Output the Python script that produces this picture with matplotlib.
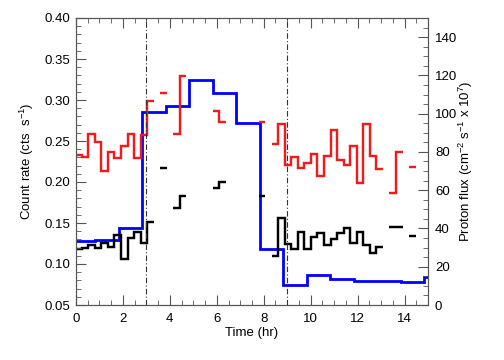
import numpy as np
import matplotlib
matplotlib.use('Agg')
import matplotlib.pyplot as plt
from matplotlib.ticker import MultipleLocator, FormatStrFormatter

plt.rcParams['font.family'] = ['Liberation Sans', 'DejaVu Sans']
plt.rcParams['mathtext.fontset'] = 'custom'
plt.rcParams['mathtext.rm'] = 'Liberation Sans'
plt.rcParams['mathtext.it'] = 'Liberation Sans:italic'
plt.rcParams['mathtext.default'] = 'regular'

nan = np.nan

# ---- data -------------------------------------------------------------
# count-rate light curves, 1000 s bins (time in hr)
count_bin_start = -0.035
count_bin_width = 0.279
red_rate = [0.233, 0.231, 0.259, 0.249, 0.214, 0.236, 0.229, 0.244, 0.259, 0.229,
            0.257, 0.299, nan, 0.308, nan, 0.259, 0.329, nan, nan, nan,
            nan, 0.287, 0.273, nan, nan, nan, nan, nan, 0.2735, nan,
            0.246, 0.2707, 0.2207, 0.230, 0.2167, 0.223, 0.234, 0.2077, 0.232, 0.263,
            0.227, 0.221, 0.244, 0.199, 0.2707, 0.232, 0.2155, nan, 0.186, 0.236,
            nan, 0.218, nan, nan]
black_rate = [0.118, 0.120, 0.123, 0.120, 0.126, 0.121, 0.135, 0.1057, 0.132, 0.139,
              0.126, 0.1516, nan, 0.2175, nan, 0.168, 0.183, nan, nan, nan,
              nan, 0.193, 0.2004, nan, nan, nan, nan, nan, 0.183, nan,
              0.110, 0.1557, 0.125, 0.118, 0.1386, 0.118, 0.1326, 0.1374, 0.123, 0.130,
              0.1374, 0.1435, 0.126, 0.139, 0.123, 0.113, 0.121, nan, 0.1455, 0.1455,
              nan, 0.1345, nan, nan]

# proton flux, hourly bins (units 1e7 cm^-2 s^-1)
proton_bin_start = -0.17
proton_bin_width = 1.0
proton_flux = [33.5, 34.2, 40.2, 100.9, 104.0, 117.6, 111.0, 95.0,
               29.3, 10.5, 15.5, 13.7, 12.5, 12.5, 12.0, 14.8]

event_times = [3.0, 9.0]

x_ticks = [0, 2, 4, 6, 8, 10, 12, 14]
left_ticks = [0.05, 0.10, 0.15, 0.20, 0.25, 0.30, 0.35, 0.40]
right_ticks = [0, 20, 40, 60, 80, 100, 120, 140]

# ---- figure -----------------------------------------------------------
fig = plt.figure(figsize=(5.04, 3.6), dpi=100)
ax = fig.add_axes([76 / 504, 55 / 360, 352 / 504, 287 / 360])
ax2 = ax.twinx()
ax.set_zorder(2)
ax.patch.set_visible(False)
ax2.set_zorder(1)

proton_edges = proton_bin_start + proton_bin_width * np.arange(len(proton_flux) + 1)
ax2.stairs(proton_flux, proton_edges, baseline=None, color='#0000ff', lw=2.0)

count_edges = count_bin_start + count_bin_width * np.arange(len(red_rate) + 1)
ax.stairs(red_rate, count_edges, baseline=None, color='#ee1c1c', lw=1.75)
ax.stairs(black_rate, count_edges, baseline=None, color='black', lw=1.75)

for t in event_times:
    ax.axvline(t, color='#333333', lw=0.8, linestyle=(0, (5, 2, 1, 2)))

ax.set_xlim(0, 15)
ax.set_ylim(0.05, 0.40)
ax2.set_ylim(0, 150)

ax.set_xticks(x_ticks)
ax.xaxis.set_minor_locator(MultipleLocator(0.5))
ax.set_yticks(left_ticks)
ax.yaxis.set_major_formatter(FormatStrFormatter('%.2f'))
ax.yaxis.set_minor_locator(MultipleLocator(0.01))
ax2.set_yticks(right_ticks)
ax2.yaxis.set_minor_locator(MultipleLocator(5))

spine_col = '#555555'
for a in (ax, ax2):
    for s in a.spines.values():
        s.set_color(spine_col)
        s.set_linewidth(0.8)

fs = 9.5
ax.tick_params(axis='both', which='both', direction='in', color=spine_col,
               top=True, right=False, labelsize=fs)
ax.tick_params(which='major', length=7, width=0.8)
ax.tick_params(which='minor', length=3.5, width=0.6)
ax.tick_params(axis='x', pad=6)
ax.tick_params(axis='y', pad=4)
ax2.tick_params(axis='y', which='both', direction='in', color=spine_col, labelsize=fs, pad=5)
ax2.tick_params(which='major', length=7, width=0.8)
ax2.tick_params(which='minor', length=3.5, width=0.6)

ax.set_xlabel('Time (hr)', fontsize=fs)
ax.set_ylabel('Count rate (cts  s$^{-1}$)', fontsize=fs)
ax2.set_ylabel('Proton flux (cm$^{-2}$ s$^{-1}$ x 10$^{7}$)', fontsize=fs)
ax.xaxis.set_label_coords(0.5, -0.075)
ax.yaxis.set_label_coords(-0.115, 0.5)
ax2.yaxis.set_label_coords(1.082, 0.5)

fig.savefig('out.png', dpi=100)
